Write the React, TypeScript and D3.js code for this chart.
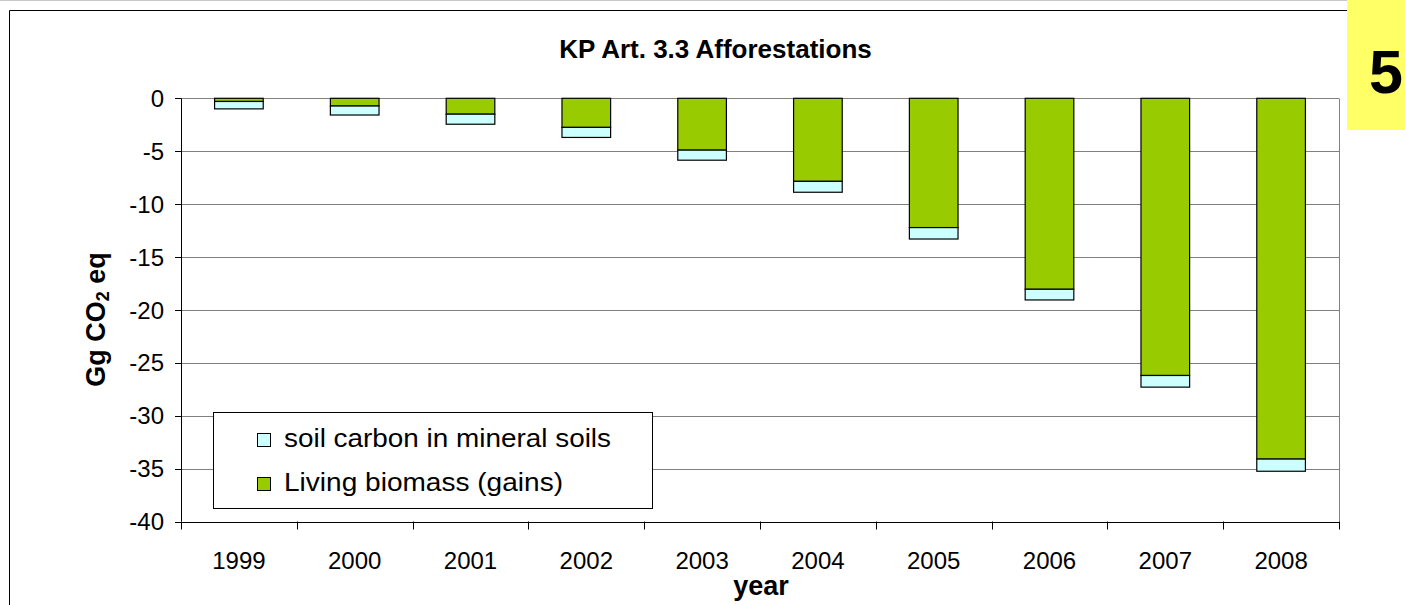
import React from "react";
import * as d3 from "d3";

const years = ["1999", "2000", "2001", "2002", "2003", "2004", "2005", "2006", "2007", "2008"];
const livingBiomass = [-0.3, -0.73, -1.5, -2.75, -4.9, -7.85, -12.22, -18.05, -26.2, -34.1];
const soilCarbon = [-0.7, -0.85, -0.95, -0.95, -0.95, -1.03, -1.08, -1.01, -1.1, -1.15];
const yTicks = [0, -5, -10, -15, -20, -25, -30, -35, -40];

const seriesKeys = ["living", "soil"];
const seriesColors: Record<string, string> = { living: "#99CC00", soil: "#CCFFFF" };
const legendItems = [
  { key: "soil", label: "soil carbon in mineral soils" },
  { key: "living", label: "Living biomass (gains)" },
];

const W = 1405;
const H = 605;
const plotL = 181;
const plotR = 1339;
const plotT = 98.3;
const plotB = 521.5;

export default function App() {
  const x = d3.scaleBand<string>().domain(years).range([plotL, plotR]).paddingInner(0.58).paddingOuter(0.29);
  const y = d3.scaleLinear().domain([-40, 0]).range([plotB, plotT]);
  const rows = years.map((yr, i) => ({ year: yr, living: livingBiomass[i], soil: soilCarbon[i] }));
  const stacked = d3.stack<any>().keys(seriesKeys).offset(d3.stackOffsetDiverging)(rows);
  const step = x.step();
  const font = "Arial, 'Liberation Sans', sans-serif";

  return (
    <svg width={W} height={H} style={{ position: "absolute", left: 0, top: 0, background: "#fff" }} fontFamily={font}>
      <rect x={0} y={0} width={W} height={H} fill="#fff" />
      <line x1={0} x2={1347} y1={0.5} y2={0.5} stroke="#c8c8c8" />
      {/* outer chart frame */}
      <line x1={9.5} x2={1347} y1={10.5} y2={10.5} stroke="#000" />
      <line x1={9.5} x2={9.5} y1={10.5} y2={H} stroke="#000" />

      {/* yellow page-number box */}
      <rect x={1347} y={0} width={58} height={130} fill="#FFFF66" />
      <text x={1369} y={93} fontSize={61} fontWeight="bold" fill="#000">5</text>

      {/* title */}
      <text x={715.5} y={58} textAnchor="middle" fontSize={26} fontWeight="bold">KP Art. 3.3 Afforestations</text>

      {/* gridlines */}
      {yTicks.filter((t) => t !== -40).map((t) => (
        <line key={t} x1={plotL} x2={plotR} y1={Math.round(y(t)) + 0.5} y2={Math.round(y(t)) + 0.5} stroke="#808080" />
      ))}
      <line x1={plotR + 0.5} x2={plotR + 0.5} y1={Math.round(plotT) + 0.5} y2={plotB} stroke="#808080" />

      {/* bars */}
      {stacked.map((s) => (
        <g key={s.key}>
          {s.map((d, i) => {
            const y0 = y(d[1]);
            const y1 = y(d[0]);
            return (
              <rect
                key={i}
                x={x(years[i])!}
                y={Math.min(y0, y1)}
                width={x.bandwidth()}
                height={Math.abs(y1 - y0)}
                fill={seriesColors[s.key]}
                stroke="#000"
                strokeWidth={1.2}
              />
            );
          })}
        </g>
      ))}

      {/* y axis */}
      <line x1={plotL + 0.5} x2={plotL + 0.5} y1={plotT} y2={plotB} stroke="#000" />
      {yTicks.map((t) => (
        <g key={t}>
          <line x1={plotL - 6} x2={plotL} y1={Math.round(y(t)) + 0.5} y2={Math.round(y(t)) + 0.5} stroke="#000" />
          <text x={164} y={y(t)} dy="0.36em" textAnchor="end" fontSize={24}>{t}</text>
        </g>
      ))}

      {/* x axis */}
      <line x1={plotL} x2={plotR + 1} y1={Math.round(plotB) + 0.5} y2={Math.round(plotB) + 0.5} stroke="#000" />
      {d3.range(years.length + 1).map((i) => {
        const xx = Math.round(plotL + i * step) + 0.5;
        return <line key={i} x1={xx} x2={xx} y1={plotB} y2={plotB + 8} stroke="#000" />;
      })}
      {years.map((yr) => (
        <text key={yr} x={x(yr)! + x.bandwidth() / 2} y={569} textAnchor="middle" fontSize={24}>{yr}</text>
      ))}
      <text x={761} y={595} textAnchor="middle" fontSize={27} fontWeight="bold">year</text>

      {/* y label */}
      <text transform={`translate(105,319.5) rotate(-90)`} textAnchor="middle" fontSize={27} fontWeight="bold">
        Gg CO<tspan fontSize={18} dy={4}>2</tspan><tspan dy={-4}> eq</tspan>
      </text>

      {/* legend */}
      <rect x={213.5} y={412.5} width={439} height={96} fill="#fff" stroke="#000" />
      {legendItems.map((it, i) => (
        <g key={it.key}>
          <rect x={257.5} y={433.5 + i * 44} width={13} height={13} fill={seriesColors[it.key]} stroke="#000" />
          <text x={284} y={447 + i * 44} fontSize={26} textLength={i === 0 ? 327 : 279} lengthAdjust="spacingAndGlyphs">{it.label}</text>
        </g>
      ))}
    </svg>
  );
}
